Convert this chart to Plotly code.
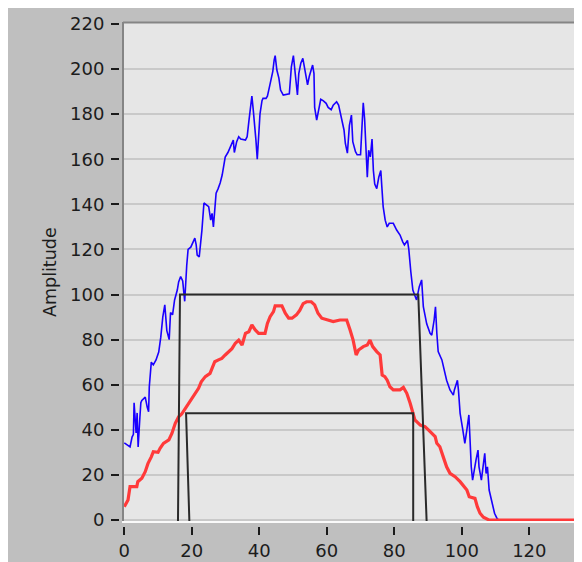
import plotly.graph_objects as go

# ---------------- data ----------------
blue_x = [0, 1.0, 1.7, 2.3, 2.7, 2.9, 3.5, 3.8, 4.1, 4.6, 4.9, 5.2, 6.2, 6.8, 7.2, 7.4, 8.0, 8.6, 9.4,
          10.2, 10.8, 11.4, 12.0, 12.6, 13.3, 13.7, 14.3, 14.9, 15.7, 16.1, 16.7, 17.3, 17.9, 18.5, 18.9,
          19.7, 20.3, 20.9, 21.3, 21.6, 22.2, 22.6, 23.0, 23.6, 24.2, 25.0, 25.6, 26.0, 26.4, 26.8, 27.2,
          27.8, 28.4, 29.0, 29.5, 29.9, 30.7, 31.3, 31.9, 32.3, 32.6, 33.3, 33.9, 34.5, 35.9, 36.4, 36.9,
          37.5, 37.8, 38.2, 38.6, 39.0, 39.4, 39.8, 40.2, 40.8, 41.1, 42.0, 42.4, 42.8, 43.4, 44.0, 44.4,
          44.7, 45.2, 45.8, 46.3, 47.1, 48.9, 49.5, 50.1, 50.7, 51.3, 51.7, 52.3, 52.9, 53.5, 54.0, 54.3,
          54.8, 55.4, 55.8, 56.2, 56.4, 57.0, 57.6, 58.2, 58.9, 59.8, 60.4, 61.3, 61.9, 62.9, 63.5, 63.9,
          64.5, 65.1, 65.5, 66.1, 66.7, 67.3, 67.7, 68.5, 69.0, 70.0, 70.4, 70.8, 71.2, 71.6, 72.0, 72.4,
          72.9, 73.4, 73.8, 74.2, 74.8, 75.4, 76.0, 76.3, 76.7, 77.3, 77.9, 78.5, 79.7, 80.7, 81.7, 82.5,
          83.0, 83.9, 84.3, 84.9, 85.5, 86.1, 86.6, 87.4, 88.1, 88.6, 89.6, 90.6, 91.1, 91.8, 92.2, 92.6,
          93.0, 94.1, 94.9, 95.5, 96.5, 97.5, 97.8, 98.7, 99.0, 99.5, 100.3, 100.9, 101.5, 102.1, 102.4,
          102.8, 103.2, 103.6, 104.2, 104.8, 105.1, 105.8, 106.2, 106.8, 107.2, 107.6, 108.1, 108.9,
          109.7, 110.5, 111.0, 136.0]
blue_y = [34.2, 33, 32.4, 36.8, 38, 52, 38.6, 47.5, 32.4, 45, 52, 53, 54.5, 50, 48, 59, 70, 68.8, 71,
          74.5, 81, 90, 95.4, 84, 80, 92, 91, 97.6, 102, 105.6, 108, 106, 97, 113, 120,
          121, 123, 125, 122, 117.5, 116.7, 122, 128.6, 140.6, 140, 139, 133, 136, 130, 137.5, 145,
          147, 149.5, 153, 157.5, 161, 163, 165, 167, 168.5, 163, 167.8, 170, 169, 168.5, 170, 176.7,
          183, 188, 182, 176, 168.5, 160, 168.5, 180, 186, 187, 187, 188, 190.7, 194.4, 199, 204,
          206, 199.6, 196, 190.7, 188.5, 189, 201, 206, 198, 188.5, 198, 202.6, 204.8, 199, 195, 193,
          196.7, 199.6, 201.8, 198, 183, 177.4, 183, 186.6, 186, 184.8, 183, 182, 184, 185.5, 184, 181,
          177.4, 173, 167, 162.7, 175, 179.6, 167.8, 163.4, 162, 162, 173.7, 185, 178, 161, 152, 164,
          161, 169, 155, 149, 147, 152, 155, 148, 139, 133, 130, 131.6, 131.6, 128.6, 126.4, 123.4,
          122, 124, 120, 110, 102, 99.5, 97.6, 103.5, 106.5, 94.6, 87, 82.8, 82, 88.7, 94.6, 82.8,
          74.7, 71, 66.5, 62, 57.7, 55.4, 57.7, 62, 57.7, 47.3, 40, 34, 40, 46.6, 37,
          23.6, 17.7, 22, 26.6, 31, 23.6, 17.7, 23.6, 29.6, 20.6, 23.6, 13.3, 7.4,
          3, 0.5, 0, 0]

red_x = [0, 1.1, 1.7, 3.7, 4.0, 5.2, 6.2, 7.0, 8.0, 8.6, 10.0, 10.6, 11.6, 13.2, 14.1, 15.1, 16.1, 17.0,
         18.1, 19.1, 20.1, 21.0, 22.0, 22.8, 24.0, 25.4, 25.9, 26.8, 27.9, 28.9, 29.9, 30.9, 31.9, 32.9,
         33.9, 34.9, 35.9, 36.9, 37.8, 38.8, 39.8, 41.7, 42.4, 43.2, 44.2, 44.7, 46.7, 47.7, 48.7, 49.7,
         51.0, 52.0, 53.0, 54.0, 55.4, 56.4, 57.4, 58.5, 60.0, 61.9, 63.9, 65.9, 66.9, 67.8, 68.7, 69.4,
         70.8, 72.0, 72.8, 73.6, 74.8, 75.8, 76.4, 77.2, 77.9, 78.7, 79.7, 81.7, 82.7, 83.7, 84.7, 85.5,
         86.1, 87.7, 89.1, 90.1, 91.1, 92.1, 92.6, 93.5, 94.5, 95.5, 96.5, 98.0, 99.5, 100.4, 101.5,
         102.2, 103.9, 104.6, 105.4, 106.4, 107.3, 108.0, 136.0]
red_y = [5.9, 8.9, 14.8, 14.8, 17, 18.5, 21.4, 25, 28, 30.3, 30, 31.8, 34, 35.5, 38.4, 42.9, 45.8, 47,
         49.5, 51.8, 54, 56.2, 58.4, 61.3, 63.6, 65, 67, 70.2, 71, 71.7, 73.2, 74.7, 76, 78.4,
         79.8, 77.6, 82.8, 83.5, 86.5, 84.3, 82.8, 82.8, 87.2, 90.2, 92.4, 95, 95, 91.7, 89.5, 89.5,
         91, 93, 96, 96.8, 96.8, 95.4, 91.7, 89.5, 88.7, 88, 88.7, 88.7, 84.3, 79.8, 73.2, 75.4,
         76.9, 77.6, 79.8, 76.9, 74.7, 73.2, 64.3, 63.6, 62, 59.1, 57.7, 57.7, 58.8, 56.2, 51.8, 48,
         44.4, 42.1, 41.4, 40, 38.4, 37, 34, 32.5, 28, 23.6, 20.7, 19.2, 17, 15.5, 13.3,
         10.3, 9.6, 5.9, 3, 1.2, 0.5, 0, 0]

upper_x = [15.9, 16.5, 87.1, 89.6]
upper_y = [-1.5, 100, 100, -1.5]
lower_x = [19.3, 18.3, 85.6, 85.6]
lower_y = [-1.5, 47.3, 47.3, -1.5]

y_ticks = [0, 20, 40, 60, 80, 100, 120, 140, 160, 180, 200, 220]
x_ticks = [0, 20, 40, 60, 80, 100, 120]

# ---------------- layout geometry (pixels) ----------------
# the page body adds an 8px offset, so the figure fills the rest of the window
OFF = 8
W, H = 574, 554
ML, MR, MT, MB = 111, 0, 15, 36
PW = W - ML - MR
PH = H - MT - MB


def px_x(p):
    """screen x pixel -> paper fraction"""
    return (p - OFF - ML) / PW


def px_y(p):
    """screen y pixel -> paper fraction"""
    return (H - MB - (p - OFF)) / PH


FONT = "DejaVu Sans"
TXT = "#1c1c1c"

fig = go.Figure()
fig.add_trace(go.Scatter(x=blue_x, y=blue_y, mode="lines",
                         line=dict(color="#1a00ff", width=1.6)))
fig.add_trace(go.Scatter(x=red_x, y=red_y, mode="lines",
                         line=dict(color="#ff3a3a", width=3.2)))
fig.add_trace(go.Scatter(x=upper_x, y=upper_y, mode="lines",
                         line=dict(color="#2a2a2a", width=2)))
fig.add_trace(go.Scatter(x=lower_x, y=lower_y, mode="lines",
                         line=dict(color="#2a2a2a", width=2)))

shapes = [
    # inset frame
    dict(type="line", xref="paper", yref="paper", x0=px_x(123), x1=px_x(600), y0=px_y(22.5), y1=px_y(22.5),
         line=dict(color="#858585", width=2)),
    dict(type="line", xref="paper", yref="paper", x0=px_x(123), x1=px_x(123), y0=px_y(22), y1=px_y(522.5),
         line=dict(color="#858585", width=2)),
    dict(type="line", xref="paper", yref="paper", x0=px_x(122), x1=px_x(600), y0=px_y(522), y1=px_y(522),
         line=dict(color="#fafafa", width=2)),
]

annotations = [
    dict(text="Amplitude", xref="paper", yref="paper", x=px_x(50), y=px_y(272),
         textangle=-90, showarrow=False, xanchor="center", yanchor="middle",
         font=dict(family=FONT, size=17.5, color=TXT)),
    dict(text="140", xref="paper", yref="paper", x=px_x(596.5), y=px_y(548),
         showarrow=False, xanchor="center", yanchor="middle",
         font=dict(family=FONT, size=18, color=TXT)),
]

x_lo = -(124.3 - 123) / 3.375
x_hi = (582 - 124.3) / 3.375
ppu = 496 / 220
y_lo = -(522 - 520) / ppu
y_hi = 220 + (24 - 23) / ppu

fig.update_layout(
    width=W, height=H,
    margin=dict(l=ML, r=MR, t=MT, b=MB, pad=0, autoexpand=False),
    paper_bgcolor="#bfbfbf",
    plot_bgcolor="#e6e6e6",
    showlegend=False,
    hovermode=False,
    shapes=shapes,
    annotations=annotations,
    xaxis=dict(
        domain=[px_x(123), 1], range=[x_lo, x_hi], anchor="free", position=0,
        tickmode="array", tickvals=x_ticks, ticktext=[str(v) for v in x_ticks],
        ticks="outside", ticklen=8, tickwidth=2, tickcolor="#1a1a1a",
        showgrid=False, zeroline=False, showline=False,
        tickfont=dict(family=FONT, size=18, color=TXT),
    ),
    yaxis=dict(
        domain=[px_y(522), 1], range=[y_lo, y_hi], anchor="free", position=0,
        tickmode="array", tickvals=y_ticks, ticktext=[str(v) for v in y_ticks],
        ticks="outside", ticklen=8, tickwidth=2, tickcolor="#1a1a1a",
        ticklabelstandoff=3,
        showgrid=True, gridcolor="#c9c9c9", gridwidth=2,
        zeroline=False, showline=False,
        tickfont=dict(family=FONT, size=18, color=TXT),
    ),
)

fig.write_html("out.html", config={"displayModeBar": False})
